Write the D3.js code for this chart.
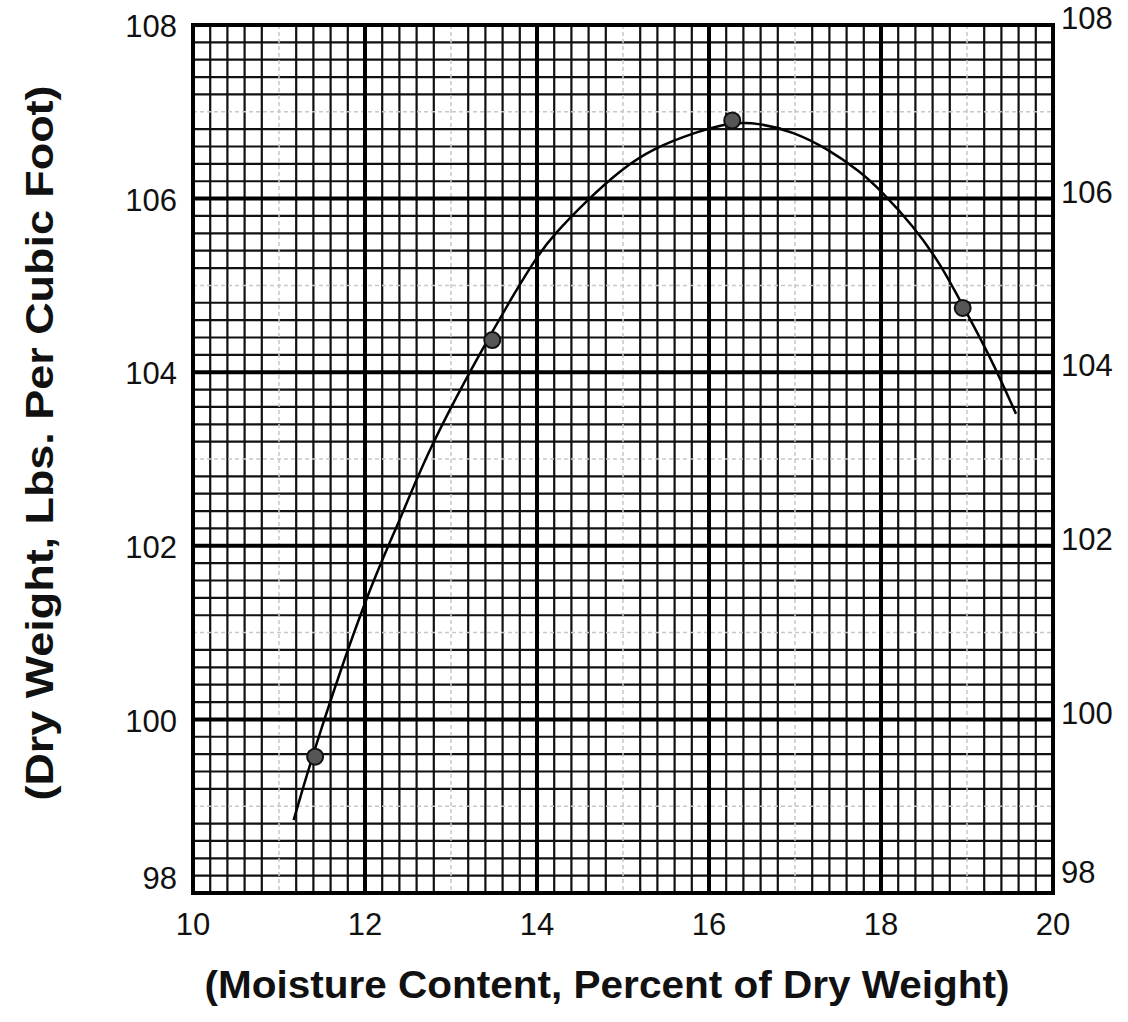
<!DOCTYPE html>
<html lang="en">
<head>
  <meta charset="UTF-8">
  <title>Dry Weight vs Moisture Content</title>
  <script src="https://d3js.org/d3.v7.min.js"></script>
  <style>
    body { margin: 0; background: #fff; }
    svg { display: block; font-family: "Liberation Sans", Arial, sans-serif; }
    .tick-label { font-size: 31px; fill: #111; }
    .axis-title { font-weight: bold; fill: #111; }
  </style>
</head>
<body>
<svg width="1128" height="1022"></svg>
<script>
// tick labels
const xTicks = [10, 12, 14, 16, 18, 20];
const yTicks = [98, 100, 102, 104, 106, 108];

// measured points (moisture %, dry weight lbs/cu ft)
const pointX = [11.42, 13.48, 16.27, 18.95];
const pointY = [99.57, 104.37, 106.9, 104.74];

// hand-drawn fitted curve
const curveX = [11.17, 11.44, 12.02, 12.41, 12.72, 13.30, 13.76, 14.0, 14.19, 14.58, 14.97, 15.35, 15.86, 16.25, 16.59, 16.98, 17.37, 17.76, 17.99, 18.38, 18.69, 18.96, 19.27, 19.57];
const curveY = [98.84, 99.76, 101.45, 102.30, 103.07, 104.16, 104.95, 105.33, 105.58, 105.98, 106.33, 106.58, 106.77, 106.88, 106.87, 106.77, 106.58, 106.31, 106.10, 105.68, 105.25, 104.75, 104.18, 103.52];

const svg = d3.select("svg");
const margin = {top: 25, left: 193};
const w = 860, h = 868;

const x = d3.scaleLinear().domain([10, 20]).range([0, w]);
const y = d3.scaleLinear().domain([98, 108]).range([h, 0]);

const g = svg.append("g").attr("transform", `translate(${margin.left},${margin.top})`);

// graph paper grid: 0.2 steps, faint dashed at odd units, heavy at even units
const steps = d3.range(0, 51).map(i => 10 + i * 0.2);
const ySteps = d3.range(0, 51).map(i => 98 + i * 0.2);
function kind(i) {
  if (i % 10 === 0) return "major";
  if (i % 5 === 0) return "odd";
  return "minor";
}
const styles = {
  minor: {w: 2.2, c: "#111", dash: null},
  odd: {w: 1.5, c: "#c8c8c8", dash: "4,3"},
  major: {w: 4, c: "#000", dash: null}
};
["minor", "odd", "major"].forEach(k => {
  g.selectAll(null)
    .data(steps.filter((d, i) => kind(i) === k))
    .enter().append("line")
    .attr("x1", d => x(d)).attr("x2", d => x(d))
    .attr("y1", 0).attr("y2", h)
    .attr("stroke", styles[k].c)
    .attr("stroke-width", styles[k].w)
    .attr("stroke-dasharray", styles[k].dash);
  g.selectAll(null)
    .data(ySteps.filter((d, i) => kind(i) === k))
    .enter().append("line")
    .attr("y1", d => y(d)).attr("y2", d => y(d))
    .attr("x1", 0).attr("x2", w)
    .attr("stroke", styles[k].c)
    .attr("stroke-width", styles[k].w)
    .attr("stroke-dasharray", styles[k].dash);
});

g.append("rect")
  .attr("width", w).attr("height", h)
  .attr("fill", "none").attr("stroke", "#000").attr("stroke-width", 4);

// curve
const line = d3.line()
  .x(d => x(d[0])).y(d => y(d[1]))
  .curve(d3.curveBasis);
g.append("path")
  .datum(curveX.map((v, i) => [v, curveY[i]]))
  .attr("d", line)
  .attr("fill", "none")
  .attr("stroke", "#000")
  .attr("stroke-width", 2.5);

// points
g.selectAll(".pt")
  .data(pointX.map((v, i) => [v, pointY[i]]))
  .enter().append("circle")
  .attr("class", "pt")
  .attr("cx", d => x(d[0])).attr("cy", d => y(d[1]))
  .attr("r", 8)
  .attr("fill", "#555")
  .attr("stroke", "#111")
  .attr("stroke-width", 2);

// left tick labels (98 lifted clear of the x labels)
g.selectAll(".yl")
  .data(yTicks).enter().append("text")
  .attr("class", "tick-label")
  .attr("x", -16).attr("y", d => y(d) + (d === 98 ? -15 : 1))
  .attr("dy", "0.36em")
  .attr("text-anchor", "end")
  .text(d => d);

// right tick labels
g.selectAll(".yr")
  .data(yTicks).enter().append("text")
  .attr("class", "tick-label")
  .attr("x", w + 8).attr("y", d => y(d) - (d === 98 ? 21 : 7))
  .attr("dy", "0.36em")
  .attr("text-anchor", "start")
  .text(d => d);

// bottom tick labels
g.selectAll(".xl")
  .data(xTicks).enter().append("text")
  .attr("class", "tick-label")
  .attr("x", d => x(d)).attr("y", h + 42)
  .attr("text-anchor", "middle")
  .text(d => d);

// axis titles
svg.append("text")
  .attr("class", "axis-title")
  .attr("x", 607).attr("y", 998)
  .attr("text-anchor", "middle")
  .style("font-size", "38px")
  .attr("textLength", 805)
  .attr("lengthAdjust", "spacingAndGlyphs")
  .text("(Moisture Content, Percent of Dry Weight)");

svg.append("text")
  .attr("class", "axis-title")
  .attr("transform", "translate(53,443) rotate(-90)")
  .attr("text-anchor", "middle")
  .style("font-size", "38px")
  .attr("textLength", 715)
  .attr("lengthAdjust", "spacingAndGlyphs")
  .text("(Dry Weight, Lbs. Per Cubic Foot)");
</script>
</body>
</html>
